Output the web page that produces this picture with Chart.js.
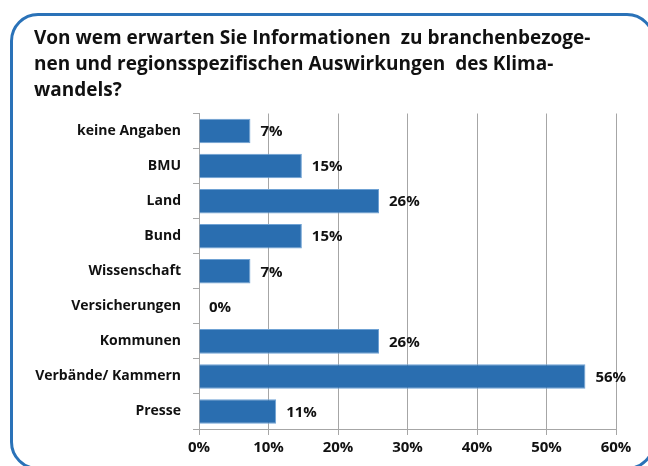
<!DOCTYPE html>
<html>
<head>
<meta charset="utf-8">
<script src="https://cdn.jsdelivr.net/npm/chart.js@4"></script>
<style>
  html, body { margin: 0; padding: 0; background: #fff; overflow: hidden; }
  #wrap { position: relative; width: 648px; height: 466px; overflow: hidden; }
  #frame {
    position: absolute; left: 10px; top: 13px; width: 645px; height: 457px;
    border: 3px solid #2a72b8; border-radius: 28px; box-sizing: border-box;
  }
  canvas { position: absolute; left: 0; top: 0; }
</style>
</head>
<body>
<div id="wrap">
  <div id="frame"></div>
  <canvas id="chart" width="648" height="466"></canvas>
</div>
<script>
const titleLines = [
  'Von wem erwarten Sie Informationen  zu branchenbezoge-',
  'nen und regionsspezifischen Auswirkungen  des Klima-',
  'wandels?'
];
const categories = ['keine Angaben', 'BMU', 'Land', 'Bund', 'Wissenschaft',
  'Versicherungen', 'Kommunen', 'Verbände/ Kammern', 'Presse'];
const shares = [7.4, 14.8, 25.9, 14.8, 7.4, 0, 25.9, 55.6, 11.1];
const xTicks = [0, 10, 20, 30, 40, 50, 60];

const fontFamily = '"Open Sans", sans-serif';

// Draw the rounded percentage next to each bar
const barLabels = {
  id: 'barLabels',
  afterDatasetsDraw(chart) {
    const ctx = chart.ctx;
    const meta = chart.getDatasetMeta(0);
    ctx.save();
    ctx.font = 'bold 15px ' + fontFamily;
    ctx.fillStyle = '#111';
    ctx.textBaseline = 'middle';
    ctx.textAlign = 'left';
    meta.data.forEach((bar, i) => {
      ctx.fillText(Math.round(shares[i]) + '%', bar.x + 10, bar.y + 1);
    });
    ctx.restore();
  }
};

const chart = new Chart(document.getElementById('chart').getContext('2d'), {
  type: 'bar',
  data: {
    labels: categories,
    datasets: [{
      data: shares,
      backgroundColor: '#2a6eb0',
      borderColor: '#6fa2d4',
      borderWidth: 1,
      barPercentage: 0.7,
      categoryPercentage: 1
    }]
  },
  options: {
    indexAxis: 'y',
    responsive: false,
    animation: false,
    layout: { padding: { left: 34, top: 26, right: 32, bottom: 5 } },
    plugins: {
      legend: { display: false },
      tooltip: { enabled: false },
      title: {
        display: true,
        text: titleLines,
        align: 'start',
        color: '#111',
        font: { family: fontFamily, size: 19, weight: 'bold', lineHeight: 1.36 },
        padding: { top: 0, bottom: 10 }
      }
    },
    scales: {
      x: {
        min: 0,
        max: 60,
        afterBuildTicks(scale) {
          scale.ticks = xTicks.map(v => ({ value: v }));
        },
        grid: { color: '#a6a6a6', tickLength: 6, drawTicks: true },
        border: { color: '#a6a6a6' },
        ticks: {
          color: '#111',
          padding: 4,
          font: { family: fontFamily, size: 15, weight: 'bold' },
          callback: v => v + '%'
        }
      },
      y: {
        afterFit(scale) { scale.width = 165; },
        grid: { drawOnChartArea: false, color: '#a6a6a6', tickLength: 6, offset: true },
        border: { color: '#a6a6a6' },
        ticks: {
          color: '#111',
          padding: 12,
          font: { family: fontFamily, size: 14, weight: 'bold' }
        }
      }
    }
  },
  plugins: [barLabels]
});
</script>
</body>
</html>
